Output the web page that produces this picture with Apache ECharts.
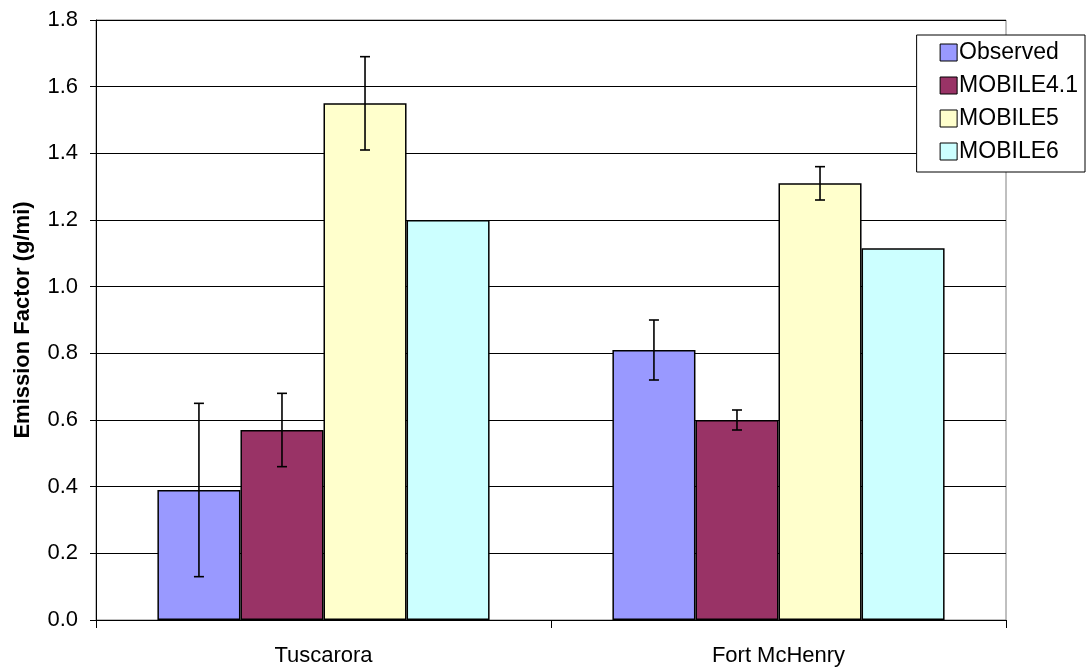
<!DOCTYPE html>
<html>
<head>
<meta charset="utf-8">
<script src="https://cdn.jsdelivr.net/npm/echarts@6/dist/echarts.min.js"></script>
<style>html,body{margin:0;padding:0;background:#fff}#c{width:1086px;height:669px}</style>
</head>
<body>
<div id="c"></div>
<script>
const categories = ['Tuscarora', 'Fort McHenry'];
const seriesNames = ['Observed', 'MOBILE4.1', 'MOBILE5', 'MOBILE6'];
const observed = [0.39, 0.81];
const mobile41 = [0.57, 0.60];
const mobile5 = [1.55, 1.31];
const mobile6 = [1.20, 1.115];
const observedErr = [[0.13, 0.65], [0.72, 0.90]];
const mobile41Err = [[0.46, 0.68], [0.57, 0.63]];
const mobile5Err = [[1.41, 1.69], [1.26, 1.36]];
const colors = ['#9999FF', '#993366', '#FFFFCC', '#CCFFFF'];

const values = [observed, mobile41, mobile5, mobile6];
const errs = [observedErr, mobile41Err, mobile5Err, null];
const gapPct = 27;

const chart = echarts.init(document.getElementById('c'));
const font = '"Liberation Sans", Arial, sans-serif';

const series = [];
values.forEach((v, i) => {
  series.push({
    name: seriesNames[i], type: 'bar', data: v,
    barGap: '0%', barCategoryGap: gapPct + '%',
    itemStyle: { color: colors[i], borderColor: '#000', borderWidth: 1.5 },
    emphasis: { disabled: true }, animation: false
  });
});
errs.forEach((e, i) => {
  if (!e) return;
  series.push({
    type: 'custom', name: 'err' + i, animation: false, z: 10,
    data: e.map((r, k) => [k, r[0], r[1]]),
    renderItem: function (params, api) {
      const k = api.value(0);
      const lo = api.coord([k, api.value(1)]);
      const hi = api.coord([k, api.value(2)]);
      const catW = api.size([1, 0])[0];
      const bw = catW * (1 - gapPct / 100) / 4;
      const x = lo[0] + (i - 1.5) * bw;
      const cap = 5;
      const st = { stroke: '#000', lineWidth: 1.6 };
      return { type: 'group', children: [
        { type: 'line', shape: { x1: x, y1: lo[1], x2: x, y2: hi[1] }, style: st },
        { type: 'line', shape: { x1: x - cap, y1: lo[1], x2: x + cap, y2: lo[1] }, style: st },
        { type: 'line', shape: { x1: x - cap, y1: hi[1], x2: x + cap, y2: hi[1] }, style: st }
      ]};
    }
  });
});

chart.setOption({
  animation: false,
  grid: { left: 96, right: 80, top: 20, bottom: 49, show: true, borderColor: '#808080', borderWidth: 1, backgroundColor: '#fff' },
  legend: {
    data: seriesNames, orient: 'vertical', right: 1, top: 35,
    backgroundColor: '#fff', borderColor: '#000', borderWidth: 1,
    padding: [6, 7, 9, 23], itemGap: 10, itemWidth: 17, itemHeight: 17,
    icon: 'rect', itemStyle: { borderColor: '#000', borderWidth: 1 },
    textStyle: { fontFamily: font, fontSize: 23, lineHeight: 23, color: '#000', padding: [0, 0, 0, -3] },
    selectedMode: false
  },
  xAxis: {
    type: 'category', data: categories,
    axisLine: { lineStyle: { color: '#000', width: 1 } },
    axisTick: { show: true, length: 8, lineStyle: { color: '#000' } },
    axisLabel: { fontFamily: font, fontSize: 22, color: '#000', margin: 25 }
  },
  yAxis: {
    type: 'value', min: 0, max: 1.8, interval: 0.2,
    name: 'Emission Factor (g/mi)', nameLocation: 'middle', nameGap: 62,
    nameTextStyle: { fontFamily: font, fontSize: 22, fontWeight: 'bold', color: '#000' },
    axisLine: { show: true, lineStyle: { color: '#000', width: 1 } },
    axisTick: { show: true, length: 6, lineStyle: { color: '#000' } },
    axisLabel: { fontFamily: font, fontSize: 22, color: '#000', margin: 18, formatter: v => v.toFixed(1) },
    splitLine: { lineStyle: { color: '#000', width: 1 } }
  },
  series: series
});
</script>
</body>
</html>
